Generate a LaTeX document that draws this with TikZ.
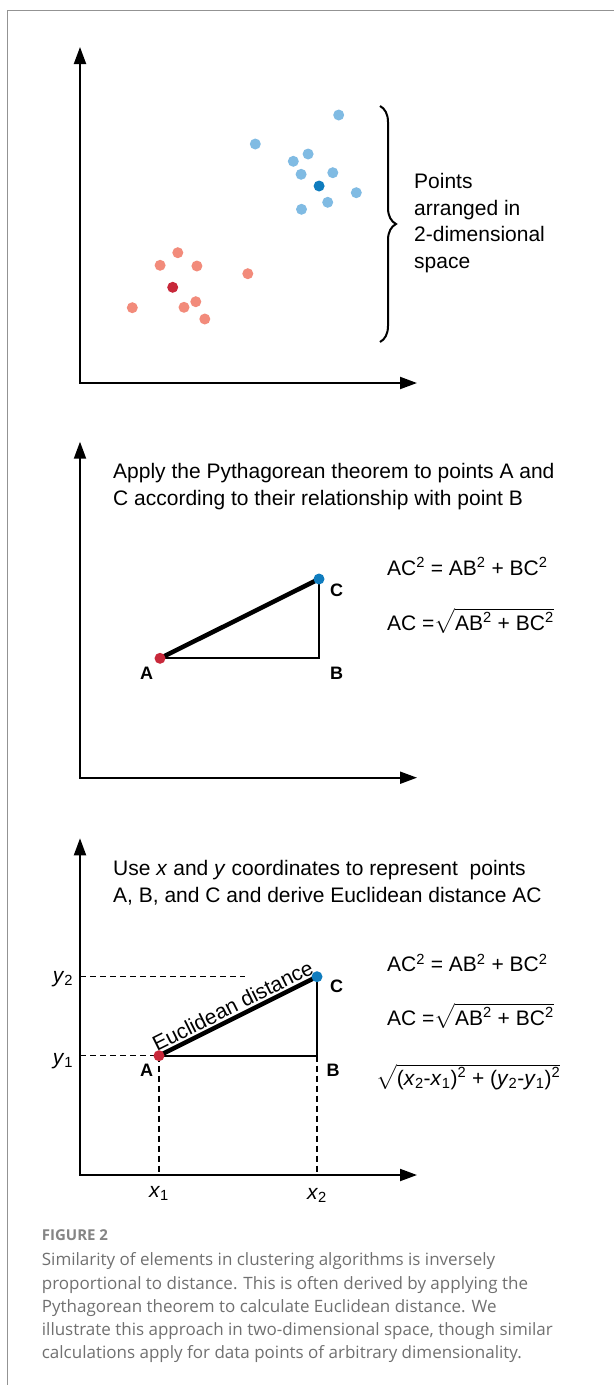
\documentclass[tikz,border=0pt]{standalone}
\usepackage{amsmath}
\usepackage{fontspec}
\setmainfont{Liberation Sans}
\newfontfamily\capfont{Open Sans}
\usepackage{tikz}
\usetikzlibrary{arrows.meta,calc,positioning,decorations.pathreplacing}
\usepackage{xcolor}
\definecolor{ptblue}{HTML}{80BBE3}
\definecolor{ptbluedk}{HTML}{0F7CBE}
\definecolor{ptred}{HTML}{F28B7B}
\definecolor{ptreddk}{HTML}{C8283A}
\definecolor{capgray}{HTML}{707070}
\newcommand{\rootstrut}{\rule[-2pt]{0pt}{17pt}}
\tikzset{
  axis/.style={line width=2pt,line cap=rect,-{Triangle[length=17pt,width=12pt]}},
  bigtext/.style={font=\fontsize{21}{26.7}\selectfont,inner sep=0pt,align=left,anchor=north west},
  formula/.style={font=\fontsize{21}{25}\selectfont,inner sep=0pt,anchor=base west},
  ptlabel/.style={font=\fontsize{18}{20}\selectfont\bfseries,inner sep=0pt},
  axlabel/.style={font=\fontsize{21}{25}\selectfont,inner sep=0pt},
  guide/.style={line width=1.5pt,dash pattern=on 6pt off 4pt},
}

\begin{document}
\begin{tikzpicture}[x=1pt,y=-1pt]
    \useasboundingbox (0,0) rectangle (614,1385);
    \draw[gray!85,line width=1.5pt] (7.3,1385) -- (7.3,10.3) -- (614,10.3);
    % (1) scatter
    \coordinate (O1) at (80,383); \coordinate (Y1) at (80,47); \coordinate (X1) at (417,383);
    \draw[axis] (O1) -- (Y1); \draw[axis] (O1) -- (X1);
    \fill[ptblue] (338.7,115) circle (5.5pt); \fill[ptblue] (255.3,144) circle (5.5pt);
    \fill[ptblue] (308.1,154) circle (5.5pt); \fill[ptblue] (293.3,161.3) circle (5.5pt);
    \fill[ptblue] (301.1,174.3) circle (5.5pt); \fill[ptblue] (332.8,172.7) circle (5.5pt);
    \fill[ptblue] (356.3,192.7) circle (5.5pt); \fill[ptblue] (327.7,202.3) circle (5.5pt);
    \fill[ptblue] (301.5,209.3) circle (5.5pt); \fill[ptbluedk] (319.1,186) circle (5.5pt);
    \fill[ptred] (177.8,252.7) circle (5.5pt); \fill[ptred] (160.1,265.3) circle (5.5pt);
    \fill[ptred] (196.9,266) circle (5.5pt); \fill[ptred] (247.8,273.7) circle (5.5pt);
    \fill[ptred] (195.8,301.7) circle (5.5pt); \fill[ptred] (184,307.3) circle (5.5pt);
    \fill[ptred] (132.3,307.7) circle (5.5pt); \fill[ptred] (204.8,319) circle (5.5pt);
    \fill[ptreddk] (172.7,287.3) circle (5.5pt);
    \draw[line width=2pt,decorate,decoration={brace,amplitude=16pt}] (380,106) -- (380,342);
    \node[bigtext] (pts) at (414,173) {Points\\arranged in\\2-dimensional\\space};
    % (2) pythagoras
    \coordinate (O2) at (80,777.7); \coordinate (Y2) at (80,441.7); \coordinate (X2) at (417,777.7);
    \draw[axis] (O2) -- (Y2); \draw[axis] (O2) -- (X2);
    \node[bigtext] (apply) at (113,463) {Apply the Pythagorean theorem to points A and\\C according to their relationship with point B};
    \coordinate (A2) at (160,658.3); \coordinate (B2) at (319,658.3); \coordinate (C2) at (319,579);
    \draw[line width=2pt] (A2) -- (B2) -- (C2);
    \draw[line width=4.5pt] (A2) -- (C2);
    \fill[ptreddk] (A2) circle (5.5pt); \fill[ptbluedk] (C2) circle (5.5pt);
    \node[ptlabel] (lA2) at (146.6,673.3) {A};
    \node[ptlabel] (lB2) at (336.7,673.3) {B};
    \node[ptlabel] (lC2) at (336.7,590) {C};
    \node[formula] (eq2a) at (387,575) {AC\textsuperscript{2} = AB\textsuperscript{2} + BC\textsuperscript{2}};
    \node[formula] (eq2b) at (387,630) {AC =$\sqrt{\rootstrut\mbox{AB\textsuperscript{2} + BC\textsuperscript{2}}}$};
    % (3) coordinates
    \coordinate (O3) at (80,1175); \coordinate (Y3) at (80,838.3); \coordinate (X3) at (417,1175);
    \draw[axis] (O3) -- (Y3); \draw[axis] (O3) -- (X3);
    \node[bigtext] (use) at (113,860) {Use \textit{x} and \textit{y} coordinates to represent\ \ points\\A, B, and C and derive Euclidean distance AC};
    \coordinate (A3) at (159,1055.7); \coordinate (B3) at (317,1055.7); \coordinate (C3) at (317,976.7);
    \coordinate (y2end) at (245,976.7);
    \draw[guide] (O3 |- C3) -- (y2end);
    \draw[guide] (O3 |- A3) -- (A3);
    \draw[guide] (A3) -- (A3 |- O3);
    \draw[guide] (B3) -- (B3 |- O3);
    \draw[line width=2pt] (A3) -- (B3) -- (C3);
    \draw[line width=4.5pt] (A3) -- node[sloped,above,axlabel,inner sep=2pt] (eucl) {Euclidean distance} (C3);
    \fill[ptreddk] (A3) circle (5.5pt); \fill[ptbluedk] (C3) circle (5.5pt);
    \node[ptlabel] (lA3) at (146.6,1070) {A};
    \node[ptlabel] (lB3) at (333,1070) {B};
    \node[ptlabel] (lC3) at (336.7,986.7) {C};
    \node[axlabel] (ly2) at (63,979) {\textit{y}\textsubscript{2}};
    \node[axlabel] (ly1) at (63,1060.7) {\textit{y}\textsubscript{1}};
    \node[axlabel] (lx1) at (159,1193) {\textit{x}\textsubscript{1}};
    \node[axlabel] (lx2) at (317,1195) {\textit{x}\textsubscript{2}};
    \node[formula] (eq3a) at (387,971.7) {AC\textsuperscript{2} = AB\textsuperscript{2} + BC\textsuperscript{2}};
    \node[formula] (eq3b) at (387,1025) {AC =$\sqrt{\rootstrut\mbox{AB\textsuperscript{2} + BC\textsuperscript{2}}}$};
    \node[formula] (eq3c) at (376,1085) {$\sqrt{\rootstrut\mbox{(\textit{x}\textsubscript{2}-\textit{x}\textsubscript{1})\textsuperscript{2} + (\textit{y}\textsubscript{2}-\textit{y}\textsubscript{1})\textsuperscript{2}}}$};
    % caption
    \node[font=\capfont\bfseries\fontsize{15}{18}\selectfont,text=capgray!85,inner sep=0pt,anchor=base west] (fig) at (41.7,1240.7) {FIGURE 2};
    \node[font=\capfont\fontsize{17}{23.3}\selectfont,text=capgray,inner sep=0pt,align=left,anchor=north west] (cap) at (41.7,1252.5)
      {Similarity of elements in clustering algorithms is inversely\\proportional to distance. This is often derived by applying the\\Pythagorean theorem to calculate Euclidean distance. We\\illustrate this approach in two-dimensional space, though similar\\calculations apply for data points of arbitrary dimensionality.};
  \end{tikzpicture}
\end{document}
